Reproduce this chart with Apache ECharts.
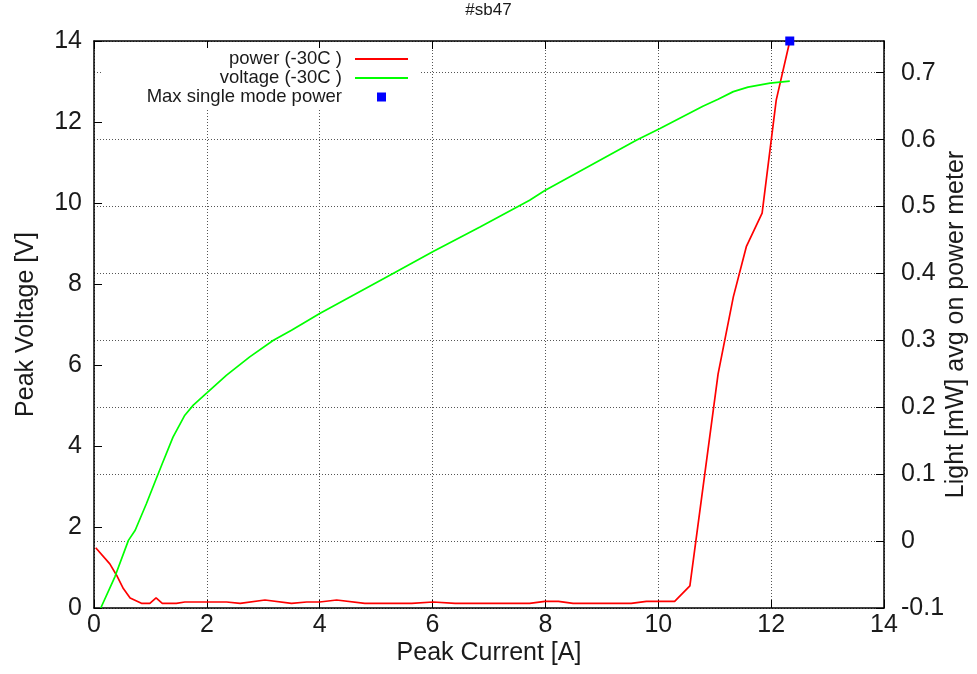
<!DOCTYPE html>
<html>
<head>
<meta charset="utf-8">
<script src="https://cdn.jsdelivr.net/npm/echarts@6/dist/echarts.min.js"></script>
<style>
html,body{margin:0;padding:0;background:#fff;overflow:hidden;}
#chart{width:977px;height:674px;}
</style>
</head>
<body>
<div id="chart"></div>
<script>
// ---- data ----
const chartTitle = '#sb47';
const xTicks = [0, 2, 4, 6, 8, 10, 12, 14];
const leftTicks = [0, 2, 4, 6, 8, 10, 12, 14];
const rightTicks = [-0.1, 0, 0.1, 0.2, 0.3, 0.4, 0.5, 0.6, 0.7];

const voltageCurrent = [0.12, 0.37, 0.61, 0.73, 0.93, 1.08, 1.2, 1.4, 1.61, 1.76, 2.0, 2.35, 2.76, 3.18, 3.5, 4.0, 5.3, 6.01, 6.84, 7.72, 7.99, 9.61, 10.03, 10.79, 11.06, 11.33, 11.59, 11.98, 12.33];
const voltageValues  = [0, 0.77, 1.67, 1.92, 2.58, 3.11, 3.53, 4.22, 4.76, 5.01, 5.31, 5.75, 6.2, 6.61, 6.86, 7.27, 8.26, 8.8, 9.41, 10.07, 10.31, 11.55, 11.84, 12.39, 12.56, 12.75, 12.86, 12.96, 13.01];

const powerCurrent = [0.03, 0.28, 0.40, 0.52, 0.64, 0.84, 0.99, 1.10, 1.21, 1.46, 1.61, 2.35, 2.59, 3.03, 3.50, 3.77, 4.00, 4.30, 4.80, 5.63, 6.01, 6.40, 7.72, 7.99, 8.23, 8.49, 9.52, 9.79, 10.29, 10.56, 11.06, 11.33, 11.56, 11.84, 12.09, 12.33];
const powerValues  = [-0.010, -0.034, -0.051, -0.071, -0.085, -0.093, -0.093, -0.085, -0.093, -0.093, -0.091, -0.091, -0.093, -0.088, -0.093, -0.091, -0.091, -0.088, -0.093, -0.093, -0.091, -0.093, -0.093, -0.090, -0.090, -0.093, -0.093, -0.090, -0.090, -0.067, 0.250, 0.365, 0.440, 0.490, 0.659, 0.747];

const maxModeCurrent = [12.33];
const maxModePower = [0.7474];

const seriesNames = ['power (-30C )', 'voltage (-30C )', 'Max single mode power'];
const xName = 'Peak Current [A]';
const yLeftName = 'Peak Voltage [V]';
const yRightName = 'Light [mW] avg on power meter';

// ---- chart ----
const FONT = '"Liberation Sans", Arial, Helvetica, sans-serif';
const TXT = '#1a1a1a';
const pair = (xs, ys) => xs.map((x, i) => [x, ys[i]]);

const chart = echarts.init(document.getElementById('chart'), null, {renderer: 'canvas', width: 977, height: 674});

const gridDots = {show: true, lineStyle: {color: '#555', width: 1, type: [1, 2]}};
const axisLine = {show: true, onZero: false, lineStyle: {color: '#000', width: 1.5}};
const tickIn = {show: true, inside: true, length: 8, lineStyle: {color: '#000', width: 1}};

const legendText = (pad) => ({fontFamily: FONT, fontSize: 18.5, color: TXT, padding: [0, pad, 0, 0]});

chart.setOption({
  backgroundColor: '#fff',
  animation: false,
  title: {
    text: chartTitle, left: 'center', top: 2, padding: 0,
    textStyle: {fontFamily: FONT, fontSize: 17, fontWeight: 'normal', color: TXT}
  },
  graphic: [{
    type: 'rect', z: 3, silent: true,
    shape: {x: 103, y: 48, width: 317, height: 60},
    style: {fill: '#fff'}
  }],
  legend: [
    {orient: 'vertical', align: 'right', right: 569, top: 49.5, padding: 0, selectedMode: false,
     itemWidth: 53, itemHeight: 2, textStyle: legendText(8),
     data: [{name: seriesNames[0], icon: 'rect'}]},
    {orient: 'vertical', align: 'right', right: 569, top: 68.5, padding: 0, selectedMode: false,
     itemWidth: 53, itemHeight: 2, textStyle: legendText(8),
     data: [{name: seriesNames[1], icon: 'rect'}]},
    {orient: 'vertical', align: 'right', right: 591, top: 87.5, padding: 0, selectedMode: false,
     itemWidth: 9, itemHeight: 9, textStyle: legendText(30),
     data: [{name: seriesNames[2], icon: 'rect'}]}
  ],
  grid: {left: 94, right: 93, top: 41, bottom: 66, containLabel: false, outerBoundsMode: 'none'},
  xAxis: [{
    type: 'value', position: 'bottom', min: xTicks[0], max: xTicks[xTicks.length - 1], interval: 2,
    name: xName, nameLocation: 'middle', nameGap: 33, nameMoveOverlap: false,
    nameTextStyle: {fontFamily: FONT, fontSize: 25, color: TXT},
    axisLine: axisLine, axisTick: tickIn, splitLine: gridDots,
    axisLabel: {fontFamily: FONT, fontSize: 25, color: TXT, margin: 5}
  }, {
    type: 'value', position: 'top', min: xTicks[0], max: xTicks[xTicks.length - 1], interval: 2,
    axisLine: axisLine, axisTick: tickIn, splitLine: {show: false}, axisLabel: {show: false}
  }],
  yAxis: [{
    type: 'value', position: 'left', min: leftTicks[0], max: leftTicks[leftTicks.length - 1], interval: 2,
    name: yLeftName, nameLocation: 'middle', nameGap: 55, nameMoveOverlap: false,
    nameTextStyle: {fontFamily: FONT, fontSize: 25, color: TXT},
    axisLine: axisLine, axisTick: tickIn, splitLine: {show: false},
    axisLabel: {fontFamily: FONT, fontSize: 25, color: TXT, margin: 12}
  }, {
    type: 'value', position: 'right', min: rightTicks[0], max: maxModePower[0], interval: 0.1,
    name: yRightName, nameLocation: 'middle', nameGap: 60, nameMoveOverlap: false,
    nameTextStyle: {fontFamily: FONT, fontSize: 25, color: TXT},
    axisLine: axisLine, axisTick: tickIn, splitLine: gridDots,
    axisLabel: {
      fontFamily: FONT, fontSize: 25, color: TXT, margin: 17, showMaxLabel: false,
      formatter: v => {
        const r = Math.round(v * 10) / 10;
        return Math.abs(r - v) < 1e-6 ? String(r) : '';
      }
    }
  }],
  series: [{
    name: seriesNames[0], type: 'line', xAxisIndex: 0, yAxisIndex: 1,
    data: pair(powerCurrent, powerValues),
    showSymbol: false, symbol: 'none', z: 4,
    lineStyle: {color: '#ff0000', width: 1.7}, itemStyle: {color: '#ff0000'}
  }, {
    name: seriesNames[1], type: 'line', xAxisIndex: 0, yAxisIndex: 0,
    data: pair(voltageCurrent, voltageValues),
    showSymbol: false, symbol: 'none', z: 4,
    lineStyle: {color: '#00ff00', width: 1.7}, itemStyle: {color: '#00ff00'}
  }, {
    name: seriesNames[2], type: 'scatter', xAxisIndex: 0, yAxisIndex: 1,
    data: pair(maxModeCurrent, maxModePower),
    symbol: 'rect', symbolSize: 9, clip: false, z: 5,
    itemStyle: {color: '#0000ff', opacity: 1}
  }]
});
</script>
</body>
</html>
